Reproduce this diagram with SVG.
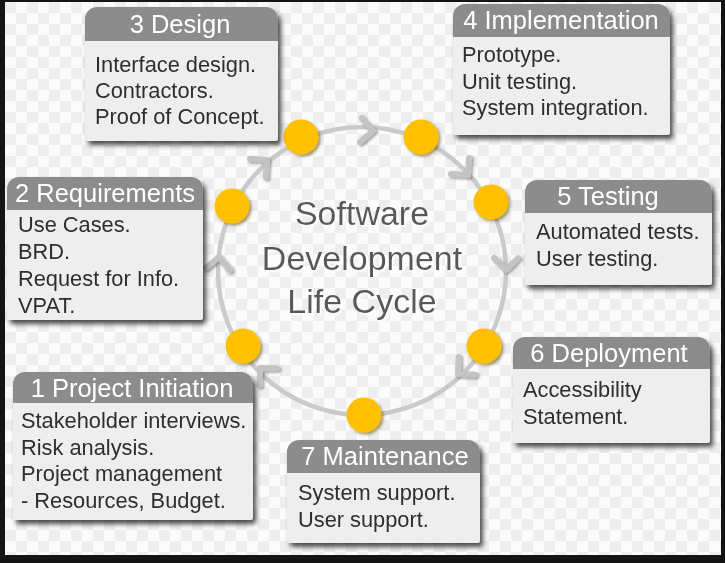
<svg xmlns="http://www.w3.org/2000/svg" width="725" height="563" viewBox="0 0 725 563">
  <defs>
    <pattern id="checker" width="22" height="22" patternUnits="userSpaceOnUse" x="5" y="2">
      <rect width="22" height="22" fill="#fbfbfb"/>
      <rect width="11" height="11" fill="#eeeeee"/>
      <rect x="11" y="11" width="11" height="11" fill="#eeeeee"/>
    </pattern>
    <filter id="boxShadow" x="-10%" y="-10%" width="130%" height="130%">
      <feDropShadow dx="3" dy="4" stdDeviation="2.5" flood-color="#000" flood-opacity="0.7"/>
    </filter>
    <filter id="dotShadow" x="-30%" y="-30%" width="170%" height="170%">
      <feDropShadow dx="2" dy="2" stdDeviation="1.5" flood-color="#5a4000" flood-opacity="0.55"/>
    </filter>
    <filter id="chevShadow" x="-50%" y="-50%" width="200%" height="200%">
      <feDropShadow dx="1.5" dy="1.5" stdDeviation="1" flood-color="#555" flood-opacity="0.55"/>
    </filter>
    <filter id="titleGlow" x="-10%" y="-20%" width="120%" height="150%">
      <feDropShadow dx="2" dy="2" stdDeviation="1" flood-color="#ffffff" flood-opacity="1"/>
    </filter>
    <path id="chev" d="M-12,-12 L0,0 L-12,12"/>
  </defs>
  <style>
    .hdr { fill: #8c8c8c; }
    .body { fill: #eeeeee; }
    .title { font-family: "Liberation Sans", Arial, sans-serif; font-size: 25.5px; fill: #ffffff; text-anchor: middle; }
    .txt { font-family: "Liberation Sans", Arial, sans-serif; font-size: 21.8px; fill: #2e2e2e; }
    .dot { fill: #ffc000; filter: url(#dotShadow); }
    .ring { fill: none; stroke: #cacaca; stroke-width: 4.5; }
    .chev use { fill: none; stroke: #c4c4c4; stroke-width: 6; stroke-linecap: round; stroke-linejoin: round; }
    .center { font-family: "Liberation Sans", Arial, sans-serif; font-size: 34px; text-anchor: middle; fill: #585858; }
  </style>

  <!-- frame and backdrop -->
  <rect width="725" height="563" fill="#141414"/>
  <rect x="5" y="2" width="716" height="553" fill="url(#checker)"/>

  <!-- cycle ring, arrows and stage dots -->
  <g id="connectors">
    <circle class="ring" cx="362" cy="271" r="144"/>
    <g class="chev" filter="url(#chevShadow)">
      <use href="#chev" transform="translate(373,131) rotate(4.6)"/>
      <use href="#chev" transform="translate(468,175) rotate(48.4)"/>
      <use href="#chev" transform="translate(506,270) rotate(90.4)"/>
      <use href="#chev" transform="translate(458,374) rotate(137.3)"/>
      <use href="#chev" transform="translate(260,368) rotate(226)"/>
      <use href="#chev" transform="translate(219,257) rotate(274.8)"/>
      <use href="#chev" transform="translate(267,160) rotate(319)"/>
    </g>
    <circle class="dot" cx="301" cy="137" r="17.5"/>
    <circle class="dot" cx="421" cy="137" r="17.5"/>
    <circle class="dot" cx="491" cy="202" r="17.5"/>
    <circle class="dot" cx="484" cy="346" r="17.5"/>
    <circle class="dot" cx="364" cy="415" r="17.5"/>
    <circle class="dot" cx="243" cy="346" r="17.5"/>
    <circle class="dot" cx="232" cy="206" r="17.5"/>
  </g>

  <!-- central title -->
  <g id="center-title" class="center" filter="url(#titleGlow)">
    <text x="362" y="225">Software</text>
    <text x="362" y="270">Development</text>
    <text x="362" y="313">Life Cycle</text>
  </g>

  <!-- 1 Project Initiation -->
  <g id="stage1">
    <path class="body" filter="url(#boxShadow)" d="M13,384 A12,12 0 0 1 25,372 H241 A12,12 0 0 1 253,384 V517 A3,3 0 0 1 250,520 H16 A3,3 0 0 1 13,517 Z"/>
    <path class="hdr" d="M13,384 A12,12 0 0 1 25,372 H241 A12,12 0 0 1 253,384 V403 H13 Z"/>
    <text class="title" x="132" y="397">1 Project Initiation</text>
    <text class="txt" x="21" y="428">Stakeholder interviews.</text>
    <text class="txt" x="21" y="455">Risk analysis.</text>
    <text class="txt" x="21" y="481">Project management</text>
    <text class="txt" x="21" y="508">- Resources, Budget.</text>
  </g>

  <!-- 2 Requirements -->
  <g id="stage2">
    <path class="body" filter="url(#boxShadow)" d="M7,189 A12,12 0 0 1 19,177 H191 A12,12 0 0 1 203,189 V317 A3,3 0 0 1 200,320 H10 A3,3 0 0 1 7,317 Z"/>
    <path class="hdr" d="M7,189 A12,12 0 0 1 19,177 H191 A12,12 0 0 1 203,189 V210 H7 Z"/>
    <text class="title" x="105" y="202">2 Requirements</text>
    <text class="txt" x="18" y="232">Use Cases.</text>
    <text class="txt" x="18" y="259">BRD.</text>
    <text class="txt" x="18" y="286">Request for Info.</text>
    <text class="txt" x="18" y="313">VPAT.</text>
  </g>

  <!-- 3 Design -->
  <g id="stage3">
    <path class="body" filter="url(#boxShadow)" d="M85,19 A12,12 0 0 1 97,7 H266 A12,12 0 0 1 278,19 V138 A3,3 0 0 1 275,141 H88 A3,3 0 0 1 85,138 Z"/>
    <path class="hdr" d="M85,19 A12,12 0 0 1 97,7 H266 A12,12 0 0 1 278,19 V41 H85 Z"/>
    <text class="title" x="180" y="33">3 Design</text>
    <text class="txt" x="95" y="72">Interface design.</text>
    <text class="txt" x="95" y="98">Contractors.</text>
    <text class="txt" x="95" y="124">Proof of Concept.</text>
  </g>

  <!-- 4 Implementation -->
  <g id="stage4">
    <path class="body" filter="url(#boxShadow)" d="M453,16 A12,12 0 0 1 465,4 H658 A12,12 0 0 1 670,16 V132 A3,3 0 0 1 667,135 H456 A3,3 0 0 1 453,132 Z"/>
    <path class="hdr" d="M453,16 A12,12 0 0 1 465,4 H658 A12,12 0 0 1 670,16 V37 H453 Z"/>
    <text class="title" x="561" y="29">4 Implementation</text>
    <text class="txt" x="462" y="62">Prototype.</text>
    <text class="txt" x="462" y="89">Unit testing.</text>
    <text class="txt" x="462" y="115">System integration.</text>
  </g>

  <!-- 5 Testing -->
  <g id="stage5">
    <path class="body" filter="url(#boxShadow)" d="M525,192 A12,12 0 0 1 537,180 H700 A12,12 0 0 1 712,192 V282 A3,3 0 0 1 709,285 H528 A3,3 0 0 1 525,282 Z"/>
    <path class="hdr" d="M525,192 A12,12 0 0 1 537,180 H700 A12,12 0 0 1 712,192 V213 H525 Z"/>
    <text class="title" x="608" y="205">5 Testing</text>
    <text class="txt" x="536" y="239">Automated tests.</text>
    <text class="txt" x="536" y="266">User testing.</text>
  </g>

  <!-- 6 Deployment -->
  <g id="stage6">
    <path class="body" filter="url(#boxShadow)" d="M513,349 A12,12 0 0 1 525,337 H698 A12,12 0 0 1 710,349 V440 A3,3 0 0 1 707,443 H516 A3,3 0 0 1 513,440 Z"/>
    <path class="hdr" d="M513,349 A12,12 0 0 1 525,337 H698 A12,12 0 0 1 710,349 V369 H513 Z"/>
    <text class="title" x="609" y="362">6 Deployment</text>
    <text class="txt" x="523" y="397">Accessibility</text>
    <text class="txt" x="523" y="424">Statement.</text>
  </g>

  <!-- 7 Maintenance -->
  <g id="stage7">
    <path class="body" filter="url(#boxShadow)" d="M287,452 A12,12 0 0 1 299,440 H468 A12,12 0 0 1 480,452 V540 A3,3 0 0 1 477,543 H290 A3,3 0 0 1 287,540 Z"/>
    <path class="hdr" d="M287,452 A12,12 0 0 1 299,440 H468 A12,12 0 0 1 480,452 V473 H287 Z"/>
    <text class="title" x="385" y="465">7 Maintenance</text>
    <text class="txt" x="298" y="500">System support.</text>
    <text class="txt" x="298" y="527">User support.</text>
  </g>
</svg>
